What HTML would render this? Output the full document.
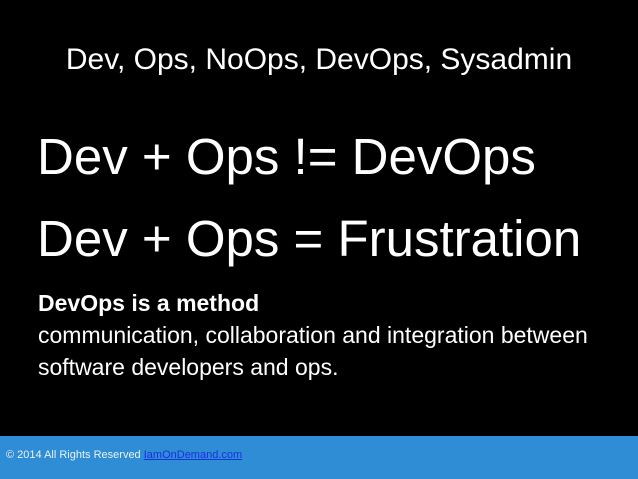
<!DOCTYPE html>
<html><head><meta charset="utf-8"><style>
html,body{margin:0;padding:0;}
body{width:638px;height:479px;background:#000;position:relative;overflow:hidden;font-family:"Liberation Sans",sans-serif;color:#fff;}
.a{position:absolute;white-space:nowrap;}
#t{left:0;width:638px;text-align:center;top:43px;font-size:30px;}
.big{left:37px;font-size:51px;}
.b{left:38px;font-size:23px;line-height:32px;}
#f{position:absolute;left:0;top:436px;width:638px;height:43px;background:#2f8dd6;}
#f span{position:absolute;left:6px;top:13px;font-size:11px;color:#e8f2fb;}
#f u{color:#1a2fe0;}
</style></head><body>
<div class="a" id="t">Dev, Ops, NoOps, DevOps, Sysadmin</div>
<div class="a big" style="top:127px">Dev + Ops != DevOps</div>
<div class="a big" style="top:209px">Dev + Ops = Frustration</div>
<div class="a b" style="top:287px"><b>DevOps is a method</b><br>communication, collaboration and integration between<br>software developers and ops.</div>
<div id="f"><span>© 2014 All Rights Reserved <u>IamOnDemand.com</u></span></div>
</body></html>
